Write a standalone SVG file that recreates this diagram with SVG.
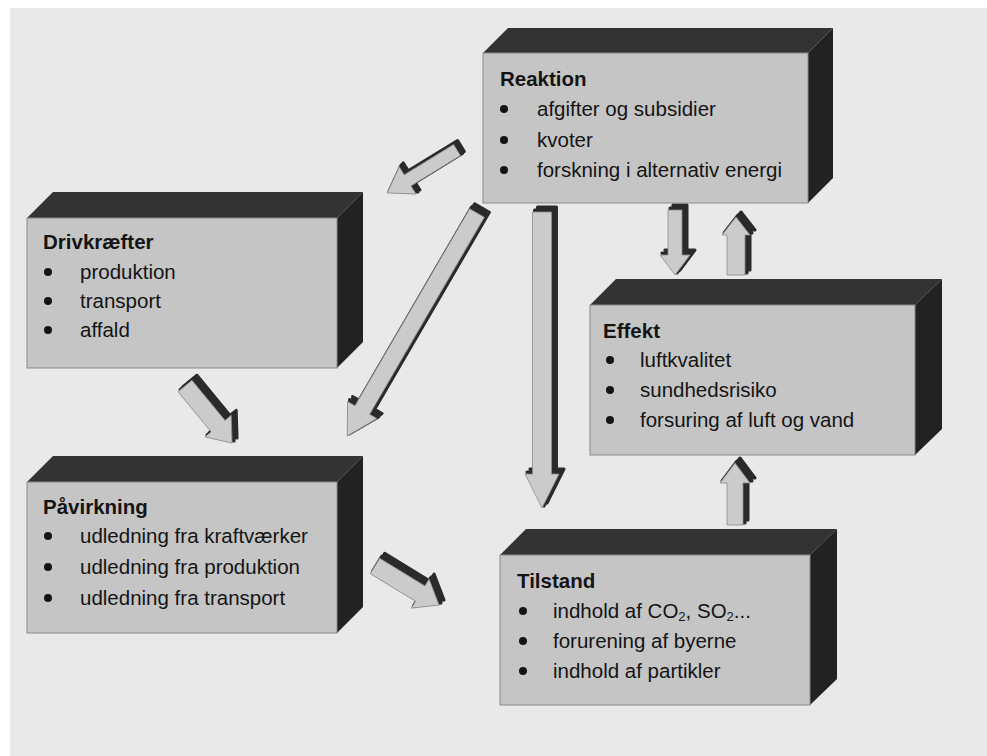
<svg xmlns="http://www.w3.org/2000/svg" xmlns:xlink="http://www.w3.org/1999/xlink" width="987" height="756" viewBox="0 0 987 756">
<style>
.front{fill:#c5c5c5;stroke:#8a8a8a;stroke-width:1}
.top{fill:#333333}
.side{fill:#222222}
.t{font-family:"Liberation Sans",Arial,sans-serif;font-size:20.5px;fill:#141414}
.h{font-weight:bold}
.b{fill:#141414}
.al{fill:#cbcbcb;stroke:#8c8c8c;stroke-width:0.8}
.ad{fill:#2a2a2a;stroke:#2a2a2a;stroke-width:3;stroke-linejoin:round}
</style>
<defs>
<polygon id="p1" points="0,-6.5 58,-6.5 58,-16 82,0 58,16 58,6.5 0,6.5" transform="translate(457,150) rotate(148.4)"/>
<polygon id="p2" points="0,-8.5 228,-8.5 228,-17 258,0 228,17 228,8.5 0,8.5" transform="translate(477,213) rotate(120.2)"/>
<polygon id="p3" points="0,-9.5 262,-9.5 262,-17 296,0 262,17 262,9.5 0,9.5" transform="translate(542,212) rotate(90)"/>
<polygon id="p4" points="0,-9 52,-9 52,-17 74,0 52,17 52,9 0,9" transform="translate(185,386) rotate(50.5)"/>
<polygon id="p5" points="0,-9 53,-9 53,-17 75,0 53,17 53,9 0,9" transform="translate(375,566) rotate(31.4)"/>
<polygon id="p6" points="0,-7 45,-7 45,-15 65,0 45,15 45,7 0,7" transform="translate(675,210) rotate(90)"/>
<polygon id="p7" points="0,-9 40,-9 40,-14 58,0 40,14 40,9 0,9" transform="translate(736,275) rotate(-90)"/>
<polygon id="p8" points="0,-8 42,-8 42,-15 62,0 42,15 42,8 0,8" transform="translate(735,525) rotate(-90)"/>
</defs>
<rect x="0" y="0" width="987" height="756" fill="#ffffff"/>
<rect x="10" y="8" width="977" height="748" fill="#e9e9e9"/>

<g id="connectors">
<g id="a1"><use xlink:href="#p1" class="ad" transform="translate(2,-2)"/><use xlink:href="#p1" class="ad" transform="translate(4,-4)"/><use xlink:href="#p1" class="al"/></g>
<g id="a2"><use xlink:href="#p2" class="ad" transform="translate(2,-2)"/><use xlink:href="#p2" class="ad" transform="translate(5,-5)"/><use xlink:href="#p2" class="al"/></g>
<g id="a3"><use xlink:href="#p3" class="ad" transform="translate(2,-2)"/><use xlink:href="#p3" class="ad" transform="translate(5,-5)"/><use xlink:href="#p3" class="al"/></g>
<g id="a4"><use xlink:href="#p4" class="ad" transform="translate(2,-2)"/><use xlink:href="#p4" class="ad" transform="translate(5,-5)"/><use xlink:href="#p4" class="al"/></g>
<g id="a5"><use xlink:href="#p5" class="ad" transform="translate(2,-2)"/><use xlink:href="#p5" class="ad" transform="translate(5,-5)"/><use xlink:href="#p5" class="al"/></g>
<g id="a6"><use xlink:href="#p6" class="ad" transform="translate(2,-2)"/><use xlink:href="#p6" class="ad" transform="translate(5,-5)"/><use xlink:href="#p6" class="al"/></g>
<g id="a7"><use xlink:href="#p7" class="ad" transform="translate(2,-2)"/><use xlink:href="#p7" class="ad" transform="translate(5,-5)"/><use xlink:href="#p7" class="al"/></g>
<g id="a8"><use xlink:href="#p8" class="ad" transform="translate(2,-2)"/><use xlink:href="#p8" class="ad" transform="translate(5,-5)"/><use xlink:href="#p8" class="al"/></g>
</g>

<g id="reaktion">
<polygon class="top" points="483,53 508,28 833,28 808,53"/>
<polygon class="side" points="808,53 833,28 833,178 808,203"/>
<rect class="front" x="483" y="53" width="325" height="150"/>
<text class="t h" x="500" y="86">Reaktion</text>
<circle class="b" cx="504" cy="109" r="4"/><text class="t" x="537" y="116">afgifter og subsidier</text>
<circle class="b" cx="504" cy="140" r="4"/><text class="t" x="537" y="147">kvoter</text>
<circle class="b" cx="504" cy="170" r="4"/><text class="t" x="537" y="177">forskning i alternativ energi</text>
</g>

<g id="drivkraefter">
<polygon class="top" points="27,218 53,192 363,192 337,218"/>
<polygon class="side" points="337,218 363,192 363,342 337,368"/>
<rect class="front" x="27" y="218" width="310" height="150"/>
<text class="t h" x="43" y="249">Drivkræfter</text>
<circle class="b" cx="48" cy="272" r="4"/><text class="t" x="80" y="279">produktion</text>
<circle class="b" cx="48" cy="301" r="4"/><text class="t" x="80" y="308">transport</text>
<circle class="b" cx="48" cy="330" r="4"/><text class="t" x="80" y="337">affald</text>
</g>

<g id="effekt">
<polygon class="top" points="590,305 616,279 942,279 915,305"/>
<polygon class="side" points="915,305 942,279 942,429 915,455"/>
<rect class="front" x="590" y="305" width="325" height="150"/>
<text class="t h" x="603" y="338">Effekt</text>
<circle class="b" cx="610" cy="360" r="4"/><text class="t" x="640" y="367">luftkvalitet</text>
<circle class="b" cx="610" cy="390" r="4"/><text class="t" x="640" y="397">sundhedsrisiko</text>
<circle class="b" cx="610" cy="420" r="4"/><text class="t" x="640" y="427">forsuring af luft og vand</text>
</g>

<g id="paavirkning">
<polygon class="top" points="27,482 53,456 363,456 337,482"/>
<polygon class="side" points="337,482 363,456 363,607 337,633"/>
<rect class="front" x="27" y="482" width="310" height="151"/>
<text class="t h" x="43" y="514">Påvirkning</text>
<circle class="b" cx="48" cy="536" r="4"/><text class="t" x="80" y="543">udledning fra kraftværker</text>
<circle class="b" cx="48" cy="567" r="4"/><text class="t" x="80" y="574">udledning fra produktion</text>
<circle class="b" cx="48" cy="598" r="4"/><text class="t" x="80" y="605">udledning fra transport</text>
</g>

<g id="tilstand">
<polygon class="top" points="500,555 526,529 837,529 810,555"/>
<polygon class="side" points="810,555 837,529 837,679 810,705"/>
<rect class="front" x="500" y="555" width="310" height="150"/>
<text class="t h" x="517" y="588">Tilstand</text>
<circle class="b" cx="523" cy="611" r="4"/><text class="t" x="553" y="618">indhold af CO<tspan font-size="13" dy="3">2</tspan><tspan dy="-3">, SO</tspan><tspan font-size="13" dy="3">2</tspan><tspan dy="-3">...</tspan></text>
<circle class="b" cx="523" cy="641" r="4"/><text class="t" x="553" y="648">forurening af byerne</text>
<circle class="b" cx="523" cy="671" r="4"/><text class="t" x="553" y="678">indhold af partikler</text>
</g>
</svg>
